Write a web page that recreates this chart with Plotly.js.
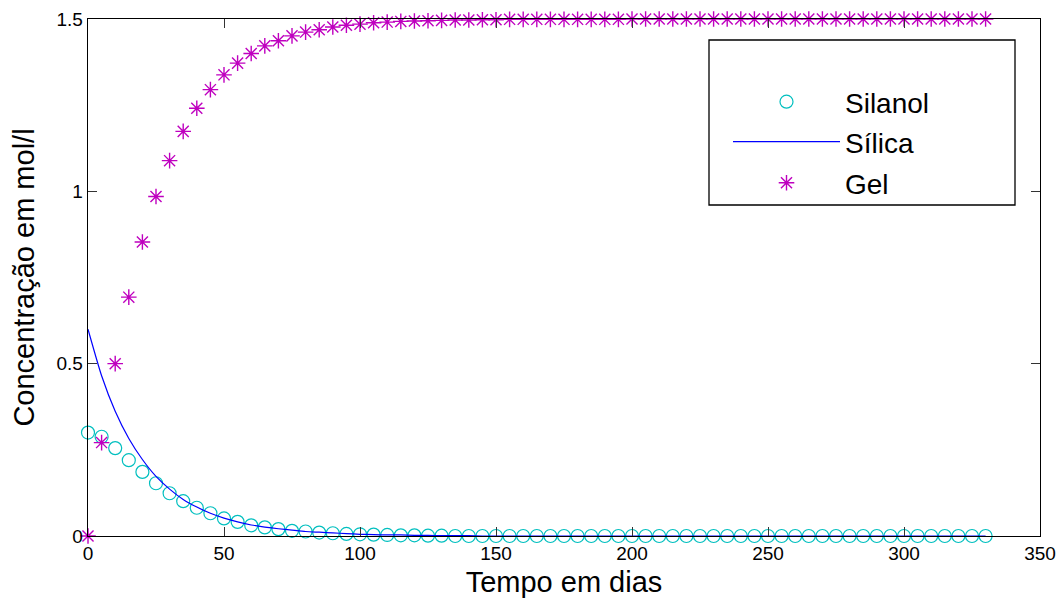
<!DOCTYPE html>
<html>
<head>
<meta charset="utf-8">
<script src="https://cdn.plot.ly/plotly-3.0.1.min.js"></script>
<style>
  html, body { margin: 0; padding: 0; background: #ffffff; }
  #chart { width: 1064px; height: 598px; }
</style>
</head>
<body>
<div id="chart"></div>
<script>
// Time in days (sampled every 5 days)
const tempo = [0,5,10,15,20,25,30,35,40,45,50,55,60,65,70,75,80,85,90,95,
  100,105,110,115,120,125,130,135,140,145,150,155,160,165,170,175,180,185,190,195,
  200,205,210,215,220,225,230,235,240,245,250,255,260,265,270,275,280,285,290,295,
  300,305,310,315,320,325,330];

const silanol = [0.300,0.288,0.255,0.220,0.186,0.153,0.124,0.101,0.082,0.066,
  0.051,0.041,0.031,0.025,0.020,0.015,0.013,0.010,0.008,0.006,
  0.005,0.004,0.003,0.002,0.002,0.001,0.001,0,0,0,
  0,0,0,0,0,0,0,0,0,0,
  0,0,0,0,0,0,0,0,0,0,
  0,0,0,0,0,0,0,0,0,0,
  0,0,0,0,0,0,0];

const silica = [0.600,0.465,0.362,0.283,0.222,0.173,0.136,0.106,0.084,0.066,
  0.052,0.041,0.032,0.026,0.021,0.017,0.013,0.011,0.009,0.007,
  0.005,0.004,0.003,0.003,0.002,0.002,0.001,0.001,0.001,0,
  0,0,0,0,0,0,0,0,0,0,
  0,0,0,0,0,0,0,0,0,0,
  0,0,0,0,0,0,0,0,0,0,
  0,0,0,0,0,0,0];

const gel = [0,0.271,0.500,0.693,0.853,0.985,1.089,1.174,1.241,1.295,
  1.338,1.372,1.400,1.422,1.437,1.451,1.462,1.469,1.477,1.482,
  1.485,1.489,1.491,1.493,1.494,1.495,1.496,1.497,1.497,1.498,
  1.498,1.499,1.499,1.499,1.499,1.499,1.499,1.499,1.499,1.499,
  1.500,1.500,1.500,1.500,1.500,1.500,1.500,1.500,1.500,1.500,
  1.500,1.500,1.500,1.500,1.500,1.500,1.500,1.500,1.500,1.500,
  1.500,1.500,1.500,1.500,1.500,1.500,1.500];

const seriesNames = ['Silanol', 'Sílica', 'Gel'];
const xTicks = [0,50,100,150,200,250,300,350];
const yTicks = [0,0.5,1,1.5];
const yTickText = ['0','0.5','1','1.5'];

const FONT = 'Liberation Sans, Arial, Helvetica, sans-serif';

const traces = [
  {
    x: tempo, y: silanol, name: seriesNames[0], type: 'scatter', mode: 'markers',
    marker: { symbol: 'circle-open', size: 13, color: '#00bfbf', line: { width: 1.2, color: '#00bfbf' } },
    legend: 'legend', cliponaxis: false
  },
  {
    x: tempo, y: silica, name: seriesNames[1], type: 'scatter', mode: 'lines',
    line: { color: '#0000ff', width: 1.2, shape: 'spline', smoothing: 0.6 },
    legend: 'legend2', cliponaxis: false
  },
  {
    x: tempo, y: gel, name: seriesNames[2], type: 'scatter', mode: 'markers',
    marker: { symbol: 'asterisk-open', size: 13, color: '#bf00bf', line: { width: 1.4, color: '#bf00bf' } },
    legend: 'legend3', cliponaxis: false
  }
];

const L = 88, R = 1040, T = 19, B = 536;
const W = R - L, H = B - T;
const px = v => (v - L) / W;
const py = v => (B - v) / H;

const legendCommon = {
  bgcolor: 'rgba(0,0,0,0)', borderwidth: 0,
  font: { family: FONT, size: 28, color: '#000000' },
  xanchor: 'left', yanchor: 'middle', itemwidth: 107,
  itemclick: false, itemdoubleclick: false
};

const layout = {
  width: 1064, height: 598,
  paper_bgcolor: '#ffffff', plot_bgcolor: '#ffffff',
  margin: { l: L, r: 1064 - R, t: T, b: 598 - B },
  font: { family: FONT, color: '#000000' },
  showlegend: true,
  xaxis: {
    range: [0, 350], tickvals: xTicks, ticktext: xTicks.map(String),
    ticks: 'inside', ticklen: 9, tickwidth: 1, tickcolor: '#333333',
    showline: true, linecolor: '#000000', linewidth: 1.3, mirror: 'ticks',
    showgrid: false, zeroline: false,
    tickfont: { family: FONT, size: 19, color: '#000000' },
    title: { text: 'Tempo em dias', font: { family: FONT, size: 29, color: '#000000' }, standoff: 9 },
    automargin: false
  },
  yaxis: {
    range: [0, 1.5], tickvals: yTicks, ticktext: yTickText,
    ticks: 'inside', ticklen: 9, tickwidth: 1, tickcolor: '#333333',
    showline: true, linecolor: '#000000', linewidth: 1.3, mirror: 'ticks',
    showgrid: false, zeroline: false,
    tickfont: { family: FONT, size: 19, color: '#000000' },
    title: { text: 'Concentração em mol/l', font: { family: FONT, size: 29, color: '#000000' }, standoff: 13 },
    automargin: false
  },
  legend: Object.assign({}, legendCommon, { x: px(728), y: py(102) }),
  legend2: Object.assign({}, legendCommon, { x: px(728), y: py(142) }),
  legend3: Object.assign({}, legendCommon, { x: px(728), y: py(183) }),
  shapes: [
    {
      type: 'rect', xref: 'paper', yref: 'paper',
      x0: px(709), x1: px(1015), y0: py(205), y1: py(40),
      line: { color: '#000000', width: 1.3 }, fillcolor: 'rgba(255,255,255,0)', layer: 'below'
    }
  ]
};

Plotly.newPlot('chart', traces, layout, { displayModeBar: false, staticPlot: true });
</script>
</body>
</html>
